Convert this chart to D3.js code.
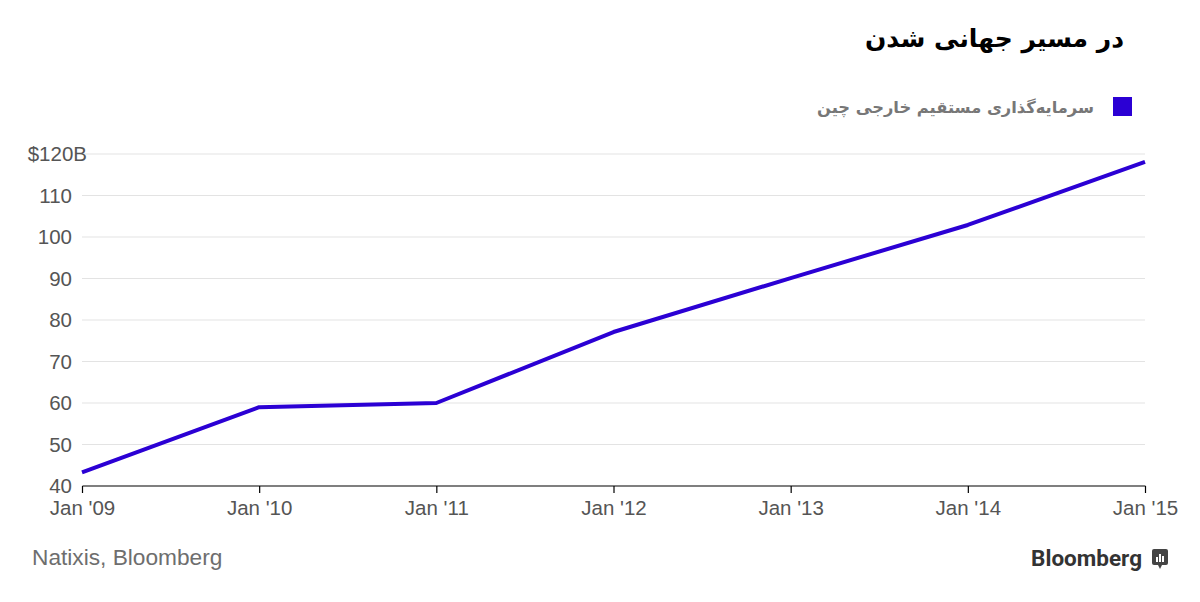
<!DOCTYPE html>
<html><head><meta charset="utf-8">
<script src="https://cdn.jsdelivr.net/npm/d3@7"></script>
<style>body{margin:0;background:#fff;}svg{display:block;}</style>
</head><body>
<script>
const title = "در مسیر جهانی شدن";
const seriesName = "سرمایه‌گذاری مستقیم خارجی چین";
const years = [2009, 2010, 2011, 2012, 2013, 2014, 2015];
const values = [43.3, 59.0, 60.0, 77.1, 90.1, 102.9, 118.1];
const xTickLabels = ["Jan '09","Jan '10","Jan '11","Jan '12","Jan '13","Jan '14","Jan '15"];
const yTicks = [40, 50, 60, 70, 80, 90, 100, 110, 120];
const source = "Natixis, Bloomberg";

const W = 1200, H = 602;
const svg = d3.select("body").append("svg").attr("width", W).attr("height", H);
const x = d3.scaleLinear().domain([2009, 2015]).range([82, 1145]);
const y = d3.scaleLinear().domain([40, 120]).range([486, 154]);

svg.append("text").attr("x", 1124).attr("y", 47).attr("text-anchor", "start")
  .attr("direction", "rtl")
  .style("font-family", "DejaVu Sans").style("font-weight", "bold").style("font-size", "25px")
  .attr("fill", "#000").text(title);

svg.append("rect").attr("x", 1113).attr("y", 97).attr("width", 19).attr("height", 19).attr("fill", "#2b00d4");
svg.append("text").attr("x", 1094).attr("y", 113).attr("text-anchor", "start")
  .attr("direction", "rtl")
  .style("font-family", "DejaVu Sans").style("font-weight", "bold").style("font-size", "16.3px")
  .attr("fill", "#777").text(seriesName);

// grid
svg.append("g").selectAll("line").data(yTicks.filter(d => d > 40)).join("line")
  .attr("x1", 82).attr("x2", 1145).attr("y1", d => y(d)).attr("y2", d => y(d))
  .attr("stroke", "#e3e3e3").attr("stroke-width", 1);

// y labels
svg.append("g").selectAll("text").data(yTicks).join("text")
  .attr("x", d => d === 120 ? 87 : 72).attr("y", d => y(d) + 7).attr("text-anchor", "end")
  .style("font-family", "Liberation Sans, Arial").style("font-size", "20.5px").attr("fill", "#555")
  .text(d => d === 120 ? "$120B" : d);

// x axis
const xAxis = d3.axisBottom(x).tickValues(years).tickSize(7).tickFormat((d, i) => xTickLabels[i]);
const gx = svg.append("g").attr("transform", "translate(0,486)").call(xAxis);
gx.select(".domain").attr("stroke", "#000").attr("stroke-width", 1.2).attr("d", "M82.5,0H1145.5");
gx.selectAll(".tick line").attr("stroke", "#000").attr("stroke-width", 1.2);
gx.selectAll(".tick text").attr("dy", 0).attr("y", 29)
  .style("font-family", "Liberation Sans, Arial").style("font-size", "20.5px").attr("fill", "#555");

// line
const line = d3.line().x((d, i) => x(years[i])).y(d => y(d));
svg.append("path").datum(values).attr("d", line).attr("fill", "none")
  .attr("stroke", "#2b00d4").attr("stroke-width", 4).attr("stroke-linejoin", "round");

svg.append("text").attr("x", 32).attr("y", 565)
  .style("font-family", "Liberation Sans, Arial").style("font-size", "22.7px").attr("fill", "#6e6e6e").text(source);

svg.append("text").attr("x", 1142).attr("y", 566).attr("text-anchor", "end")
  .style("font-family", "Roboto, Liberation Sans").style("font-weight", "bold").style("font-size", "22.5px")
  .attr("fill", "#333").text("Bloomberg");
const lg = svg.append("g").attr("transform", "translate(1152,549)");
lg.append("rect").attr("width", 16).attr("height", 16).attr("rx", 2).attr("fill", "#444");
lg.append("path").attr("d", "M6,16 L8,20 L10,16 Z").attr("fill", "#444");
[[4,8,2],[7,5,2],[10,7,2]].forEach(([bx,by,bw]) =>
  lg.append("rect").attr("x", bx).attr("y", by).attr("width", bw).attr("height", 13 - by).attr("fill", "#fff"));
</script>
</body></html>
